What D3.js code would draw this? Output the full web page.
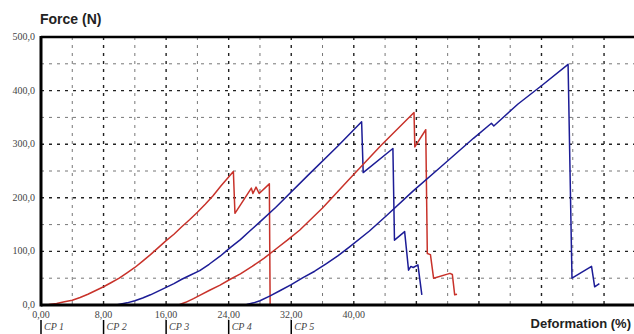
<!DOCTYPE html>
<html>
<head>
<meta charset="utf-8">
<script src="https://unpkg.com/d3@7/dist/d3.min.js"></script>
<style>
  body { margin: 0; background: #fff; }
  svg { display: block; }
</style>
</head>
<body>
<div class="panel"></div>
<script>
// deformation (%) / force (N)
const cp1 = [[0,0],[1,1],[2,3],[3,6],[4,9],[5,14],[6,20],[7,27],[8,34],[9,42],[10,50],[11,60],[12,70],[13,82],[14,94],
  [15,107],[16,120],[17,132],[18,146],[19,159],[20,173],[21,188],[22,204],[23,222],[24.6,249],
  [24.8,171],[26.9,218],[27.1,208],[27.5,220],[27.9,208],[29.2,226],[29.3,0]];
const cp2 = [[8,0],[9.6,0],[11,4],[12,8],[13,13],[14,19],[15,26],[16,33],[17,40],[18,48],[19,55],[20.3,64],[21.5,76],
  [22.9,91],[24.2,107],[25.5,122],[26.7,138],[28,155],[30,182],[34,240],[38,297],[41,342],
  [41.2,247],[45,292],[45.2,121],[46.5,137],[47,65],[47.3,72],[47.6,70],[48.2,75],[48.7,19]];
const cp3 = [[16,0],[17.6,0],[18.5,5],[19.5,12],[20.3,18],[21.5,27],[22.9,37],[24.2,48],[25.5,58],[27,72],[28.5,87],
  [30,104],[31.5,121],[33.1,140],[36,181],[39.5,236],[43.5,298],[47.7,359],
  [47.8,295],[49.2,327],[49.4,96],[49.8,94],[50.2,50],[52.3,59],[52.6,57],[52.9,19],[53.2,20]];
const cp4 = [[24,0],[26.3,1],[27.2,4],[28,8],[29.3,17],[30.6,27],[32,38],[33.5,51],[35,63],[36.5,77],[38,92],[39.5,109],
  [42,138],[44.2,167],[47.6,213],[51,256],[55.3,311],[57.6,339],[57.9,334],[61,375],[64,409],[67.4,449],
  [67.9,50],[70.4,72],[70.8,34],[71.4,40]];

const series = [
  {name: "CP 1", data: cp1, color: "#c8322a"},
  {name: "CP 2", data: cp2, color: "#1c1c96"},
  {name: "CP 3", data: cp3, color: "#c8322a"},
  {name: "CP 4", data: cp4, color: "#1c1c96"}
];

const xLabels = [0, 8, 16, 24, 32, 40];
const yLabels = [0, 100, 200, 300, 400, 500];
const cpStarts = [0, 8, 16, 24, 32];
const cpNames = ["CP 1", "CP 2", "CP 3", "CP 4", "CP 5"];

const width = 634, height = 334;
const svg = d3.select(".panel").append("svg")
  .attr("width", width).attr("height", height);

const x = d3.scaleLinear().domain([0, 75.83]).range([41, 634]);
const y = d3.scaleLinear().domain([0, 500]).range([305, 37]);

const fmt = v => d3.format(".1f")(v).replace(".", ",");
const fmt2 = v => d3.format(".2f")(v).replace(".", ",");

// grid
const gx = d3.range(4, 76, 4);
svg.append("g").selectAll("line").data(gx).join("line")
  .attr("x1", d => x(d)).attr("x2", d => x(d))
  .attr("y1", y(500)).attr("y2", y(0))
  .attr("stroke", d => d % 8 === 0 ? "#222" : "#777")
  .attr("stroke-width", d => d % 8 === 0 ? 1.4 : 1)
  .attr("stroke-dasharray", "3,5");

const gy = d3.range(50, 500, 50);
svg.append("g").selectAll("line").data(gy).join("line")
  .attr("x1", x(0)).attr("x2", width)
  .attr("y1", d => y(d)).attr("y2", d => y(d))
  .attr("stroke", d => d % 100 === 0 ? "#222" : "#777")
  .attr("stroke-width", d => d % 100 === 0 ? 1.4 : 1)
  .attr("stroke-dasharray", "3,5");

// curves
svg.append("clipPath").attr("id", "clip").append("rect")
  .attr("x", x(0)).attr("y", y(500)).attr("width", width - x(0)).attr("height", y(0) - y(500));

const line = d3.line().x(d => x(d[0])).y(d => y(d[1]));
svg.append("g").attr("clip-path", "url(#clip)")
  .selectAll("path").data(series).join("path")
  .attr("d", d => line(d.data))
  .attr("fill", "none")
  .attr("stroke", d => d.color)
  .attr("stroke-width", 1.5)
  .attr("stroke-linejoin", "round");

// frame
svg.append("line").attr("x1", x(0)).attr("x2", width).attr("y1", y(500)).attr("y2", y(500))
  .attr("stroke", "#000").attr("stroke-width", 2.5);
svg.append("line").attr("x1", x(0)).attr("x2", width).attr("y1", y(0)).attr("y2", y(0))
  .attr("stroke", "#000").attr("stroke-width", 3);
svg.append("line").attr("x1", x(0)).attr("x2", x(0)).attr("y1", y(500) - 1).attr("y2", y(0) + 1.5)
  .attr("stroke", "#000").attr("stroke-width", 3);

// y tick labels
svg.append("g").selectAll("text").data(yLabels).join("text")
  .attr("x", 35).attr("y", d => y(d) + 3)
  .attr("text-anchor", "end")
  .attr("font-family", "Liberation Serif, serif").attr("font-size", 10).attr("fill", "#444")
  .text(fmt);

// x tick labels
svg.append("g").selectAll("text").data(xLabels).join("text")
  .attr("x", d => x(d)).attr("y", 318)
  .attr("text-anchor", "middle")
  .attr("font-family", "Liberation Serif, serif").attr("font-size", 10).attr("fill", "#444")
  .text(fmt2);

// CP markers
const cp = svg.append("g").selectAll("g").data(cpStarts).join("g")
  .attr("transform", d => `translate(${x(d)},0)`);
cp.append("line").attr("x1", 0).attr("x2", 0).attr("y1", 320).attr("y2", 334)
  .attr("stroke", "#000").attr("stroke-width", 1.5);
cp.append("text").attr("x", 3).attr("y", 330)
  .attr("font-family", "Liberation Serif, serif").attr("font-style", "italic")
  .attr("font-size", 10).attr("fill", "#444")
  .text((d, i) => cpNames[i]);

// axis titles
svg.append("text").attr("x", 40).attr("y", 24)
  .attr("font-family", "Liberation Sans, Arial, sans-serif").attr("font-size", 14).attr("font-weight", "bold")
  .attr("fill", "#222").text("Force (N)");
svg.append("text").attr("x", 631).attr("y", 328)
  .attr("text-anchor", "end")
  .attr("font-family", "Liberation Sans, Arial, sans-serif").attr("font-size", 13).attr("font-weight", "bold")
  .attr("fill", "#222").text("Deformation (%)");
</script>
</body>
</html>
